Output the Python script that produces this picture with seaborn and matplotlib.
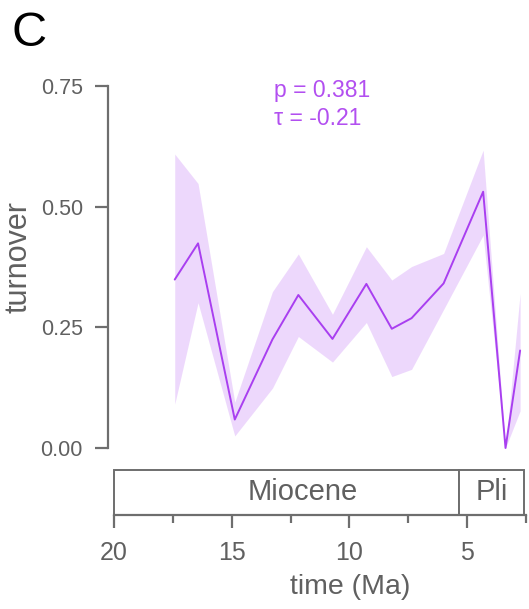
import numpy as np
import pandas as pd
import matplotlib
matplotlib.use("Agg")
import matplotlib.pyplot as plt
import seaborn as sns
from matplotlib.patches import Rectangle
from matplotlib.ticker import MultipleLocator

# ---- data ----
time_ma = [17.42, 16.43, 14.87, 13.27, 12.17, 10.72, 9.28, 8.20, 7.36, 6.00, 4.32, 3.37, 2.75]
turnover = [0.349, 0.424, 0.059, 0.225, 0.317, 0.226, 0.340, 0.247, 0.269, 0.341, 0.531, 0.0, 0.202]
upper = [0.609, 0.548, 0.095, 0.324, 0.402, 0.277, 0.417, 0.348, 0.376, 0.403, 0.617, 0.0, 0.320]
lower = [0.091, 0.301, 0.025, 0.124, 0.231, 0.178, 0.260, 0.148, 0.163, 0.287, 0.441, 0.0, 0.077]
epochs = ["Miocene", "Pli"]
epoch_start = [23.03, 5.333]
epoch_end = [5.333, 2.58]
epoch_label_x = [12.0, 3.955]
stat_lines = ["p = 0.381", "\u03c4 = -0.21"]
y_ticks = [0.0, 0.25, 0.5, 0.75]
x_major = [20, 15, 10, 5]

sns.set_style("ticks")
plt.rcParams['font.family'] = ['Liberation Sans', 'DejaVu Sans']

W, H = 529, 609
fig = plt.figure(figsize=(W / 100, H / 100), dpi=100)

PURPLE = '#a93ff0'
TXT_PURPLE = '#b24ff0'
GRAY = '#6e6e6e'
LGRAY = '#606060'

xlim = (20, 2.5)

# main axes
ax = fig.add_axes([114 / W, 1 - 448 / H, (526 - 114) / W, (448 - 86) / H])
df = pd.DataFrame({'time': time_ma, 'turnover': turnover, 'lo': lower, 'hi': upper})
ax.fill_between(df['time'], df['lo'], df['hi'], color=PURPLE, alpha=0.2, lw=0, clip_on=False)
sns.lineplot(data=df, x='time', y='turnover', ax=ax, color=PURPLE, lw=1.4, clip_on=False)
ax.set_xlim(*xlim)
ax.set_ylim(0, 0.75)
for s in ['top', 'right', 'bottom']:
    ax.spines[s].set_visible(False)
ax.spines['left'].set_position(('outward', 4.3))
ax.spines['left'].set_bounds(0, 0.75)
ax.spines['left'].set_color(GRAY)
ax.spines['left'].set_linewidth(1.6)
ax.set_xticks([])
ax.set_xlabel('')
ax.set_yticks(y_ticks)
ax.set_yticklabels([f"{v:.2f}" for v in y_ticks])
ax.tick_params(axis='y', length=9.2, width=1.6, color=GRAY, labelcolor=LGRAY, labelsize=15.5, pad=9)
ax.set_ylabel('turnover', fontsize=22, color=LGRAY)
ax.yaxis.set_label_coords(-0.195, 0.528)

# stats text
fig.text(274 / W, 1 - 97 / H, stat_lines[0], color=TXT_PURPLE, fontsize=16.5, va='baseline', ha='left')
fig.text(274 / W, 1 - 125 / H, stat_lines[1], color=TXT_PURPLE, fontsize=16.5, va='baseline', ha='left')

# panel label
fig.text(12 / W, 1 - 46 / H, 'C', fontsize=35, color='black', va='baseline', ha='left')

# timescale axes
ax2 = fig.add_axes([114 / W, 1 - 515 / H, (526 - 114) / W, 45 / H])
ax2.set_xlim(*xlim)
ax2.set_ylim(0, 1)
for s in ['top', 'right', 'left']:
    ax2.spines[s].set_visible(False)
ax2.spines['bottom'].set_color(GRAY)
ax2.spines['bottom'].set_linewidth(1.6)
ax2.set_yticks([])
for name, s, e, lx in zip(epochs, epoch_start, epoch_end, epoch_label_x):
    s_vis = min(s, xlim[0])
    ax2.add_patch(Rectangle((s_vis, 0), e - s_vis, 1, facecolor='white', edgecolor=GRAY,
                            lw=1.4, clip_on=False))
    ax2.text(lx, 0.5, name, ha='center', va='center', fontsize=21, color=LGRAY)
ax2.set_xticks(x_major)
ax2.set_xticklabels([str(v) for v in x_major])
ax2.xaxis.set_minor_locator(MultipleLocator(2.5))
ax2.tick_params(axis='x', which='major', length=9.4, width=1.6, color=GRAY, labelcolor=LGRAY,
                labelsize=18, pad=9)
ax2.tick_params(axis='x', which='minor', length=5.8, width=1.6, color=GRAY)
ax2.set_xlabel('time (Ma)', fontsize=20.5, color=LGRAY)
ax2.xaxis.set_label_coords(0.573, -1.3)

fig.savefig('out.png', dpi=100)
